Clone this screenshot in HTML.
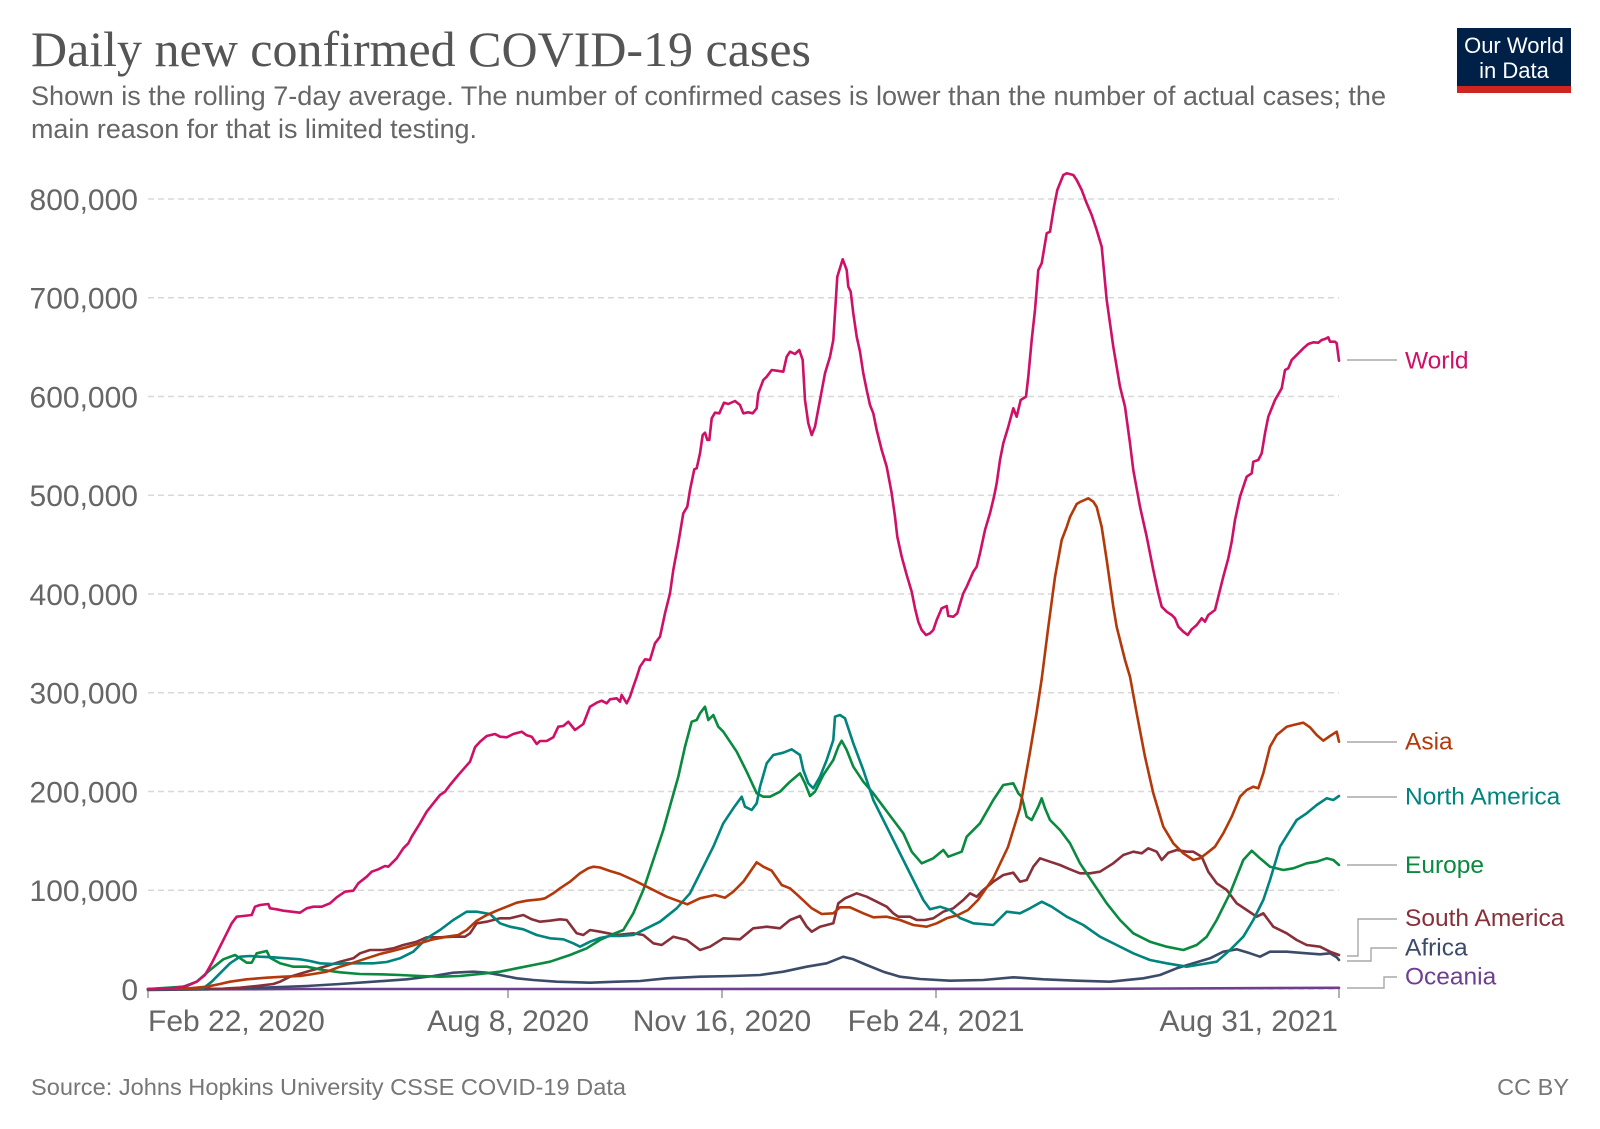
<!DOCTYPE html>
<html>
<head>
<meta charset="utf-8">
<style>
html,body{margin:0;padding:0;background:#fff;}
svg{display:block;}
</style>
</head>
<body>
<svg width="1600" height="1129" viewBox="0 0 1600 1129" xmlns="http://www.w3.org/2000/svg" font-family="'Liberation Sans', Arial, sans-serif">
<rect width="1600" height="1129" fill="#fff"/>

<!-- Title & subtitle -->
<text x="31" y="66" font-family="'Liberation Serif', serif" font-size="50" fill="#555" textLength="780" lengthAdjust="spacingAndGlyphs">Daily new confirmed COVID-19 cases</text>
<text x="31" y="105" font-size="27" fill="#666" textLength="1355" lengthAdjust="spacingAndGlyphs">Shown is the rolling 7-day average. The number of confirmed cases is lower than the number of actual cases; the</text>
<text x="31" y="138" font-size="27" fill="#666" textLength="446" lengthAdjust="spacingAndGlyphs">main reason for that is limited testing.</text>

<!-- Logo -->
<rect x="1457" y="28" width="114" height="59" fill="#002147"/>
<rect x="1457" y="86" width="114" height="7" fill="#ce261e"/>
<text x="1514" y="53" font-size="22" fill="#fff" text-anchor="middle">Our World</text>
<text x="1514" y="78" font-size="22" fill="#fff" text-anchor="middle">in Data</text>

<!-- Gridlines -->
<g stroke="#d8d8d8" stroke-width="1.5" stroke-dasharray="6,4">
<line x1="148" y1="199" x2="1339" y2="199"/>
<line x1="148" y1="297.75" x2="1339" y2="297.75"/>
<line x1="148" y1="396.5" x2="1339" y2="396.5"/>
<line x1="148" y1="495.25" x2="1339" y2="495.25"/>
<line x1="148" y1="594" x2="1339" y2="594"/>
<line x1="148" y1="692.75" x2="1339" y2="692.75"/>
<line x1="148" y1="791.5" x2="1339" y2="791.5"/>
<line x1="148" y1="890.25" x2="1339" y2="890.25"/>
<line x1="148" y1="989" x2="1339" y2="989"/>
</g>

<!-- Y axis labels -->
<g font-size="30" fill="#666" text-anchor="end">
<text x="138" y="210">800,000</text>
<text x="138" y="308.5">700,000</text>
<text x="138" y="407.5">600,000</text>
<text x="138" y="506">500,000</text>
<text x="138" y="605">400,000</text>
<text x="138" y="703.5">300,000</text>
<text x="138" y="802.5">200,000</text>
<text x="138" y="901">100,000</text>
<text x="138" y="1000">0</text>
</g>

<!-- X ticks -->
<g stroke="#999" stroke-width="1.5">
<line x1="148" y1="989" x2="148" y2="998"/>
<line x1="508" y1="989" x2="508" y2="998"/>
<line x1="722" y1="989" x2="722" y2="998"/>
<line x1="936" y1="989" x2="936" y2="998"/>
<line x1="1339" y1="989" x2="1339" y2="998"/>
</g>
<g font-size="30" fill="#666">
<text x="148" y="1031">Feb 22, 2020</text>
<text x="508" y="1031" text-anchor="middle">Aug 8, 2020</text>
<text x="722" y="1031" text-anchor="middle">Nov 16, 2020</text>
<text x="936" y="1031" text-anchor="middle">Feb 24, 2021</text>
<text x="1338" y="1031" text-anchor="end">Aug 31, 2021</text>
</g>

<!-- Series -->
<g fill="none" stroke-width="2.6" stroke-linejoin="round" stroke-linecap="round">
<polyline stroke="#6d3e91" points="148,989.5 300,989 700,989 1100,988.8 1339,987.8"/>
<polyline stroke="#3c4b69" points="148,990 206.7,989.3 240,988.3 273.3,987.3 306.7,986 340,984 373.3,981.7 406.7,979.3 433.3,976 453.3,972.7 473.3,971.7 486.7,972.7 500,975 516.7,978.3 533.3,980 556.7,981.7 590,982.7 616.7,981.7 640,981 666.7,978.3 700,976.7 733.3,976 760,975 783.3,971.7 806.7,966.7 826.7,963.3 843.3,956.7 853.3,959.3 866.7,965 883.3,971.7 900,976.7 920,979 950,980.7 983.3,980 1013.3,977.3 1043.3,979.3 1076.7,980.7 1110,981.7 1143.3,978.3 1160,975 1176.7,968.3 1193.3,963.3 1210,958.3 1223.3,951.7 1236.7,949.3 1250,953.3 1260,956.7 1270,951.7 1286.7,951.7 1306.7,953.3 1320,954.3 1330,953.3 1336.7,957.3 1339,960"/>
<polyline stroke="#883039" points="148,989 223.3,988.7 240,987.7 256.7,986 273.3,984 280,981.7 290,976.7 306.7,971.7 326.7,966 340,961.7 353.3,958.3 360,953.3 370,950 383.3,950 393.3,948.3 403.3,945 416.7,941.7 426.7,937.3 440,937.3 453.3,936.7 465,936.7 470,933.3 476.7,923.3 486.7,921.7 500,918.3 510,918.3 523.3,915 531.7,919.3 540,921.7 550,920.7 560,919.3 566.7,920 571.7,926.7 576.7,933.3 583.3,935 590,930 600,931.7 616.7,935 633.3,933.3 643.3,935 653.3,943.3 661.7,945 673.3,936.7 686.7,940 700,950 710,946.7 723.3,938.3 740,939.3 753.3,928.3 766.7,926.7 780,928.3 790,920 800,916 806.7,926.7 811.7,931.7 820,926.7 833.3,923.3 838.3,903.3 845,898.3 856.7,893.3 866.7,896.7 876.7,901.7 886.7,906.7 893.3,913.3 898.3,916.7 910,916.7 916.7,920 925,920 933.3,918.3 943.3,911.7 953.3,908.3 963.3,900 970,893.3 976.7,896.7 983.3,890 993.3,881.7 1003.3,875 1013.3,872.7 1020,881.7 1026.7,880 1033.3,866.7 1040,858.3 1050,861.7 1060,865 1070,869.3 1080,873.3 1090,873.3 1100,871.7 1113.3,863.3 1123.3,855 1133.3,851.7 1141.7,853.3 1148.3,848.3 1156.7,851.7 1161.7,860 1168.3,852.7 1176.7,850 1186.7,851.7 1193.3,851.7 1201.7,856.7 1208.3,871.7 1216.7,883.3 1226.7,890 1236.7,903.3 1246.7,910 1256.7,916.7 1263.3,913.3 1273.3,926.7 1286.7,933.3 1296.7,940 1306.7,945 1320,946.7 1330,951.7 1339,955"/>
<polyline stroke="#098a3e" points="148,989 183.3,986.7 196.7,981.7 210,970 223.3,959.3 235,955 241.7,959.3 246.7,962.7 251.7,962.7 256.7,953.3 266.7,951 270,957.7 280,963.3 293.3,966.7 306.7,966.7 323.3,970 340,972.3 360,974 380,974.3 400,975 420,976 440,976.7 460,976 480,974 500,971.7 516.7,968.3 533.3,965 550,961.7 570,955 586.7,948.3 600,940 613.3,934 623.3,930 633.3,913.3 643.3,890 653.3,860 663.3,830 671.7,800 678.3,776.7 685,746.7 691.7,721.7 696.7,720 700,713.3 705,706.7 708.3,720 713.3,715 718.3,726.7 723.3,731.7 730,741.7 736.7,751.7 746.7,771.7 756.7,793.3 763.3,796.7 770,796.7 780,791.7 790,781.7 800,773.3 805,783.3 810,796 815,791.7 823.3,775 833.3,760 838.3,746.7 841.7,740.7 846.7,750 853.3,766.7 863.3,781.7 873.3,793.3 883.3,806.7 893.3,820 903.3,833.3 911.7,851.7 921.7,863.3 933.3,858.3 943.3,850 948.3,856.7 961.7,851.7 966.7,836.7 980,823.3 993.3,800 1003.3,785 1013.3,783.3 1018.3,793.3 1021.7,796.7 1026.7,816.7 1031.7,820 1038.3,806.7 1041.7,798.3 1045,808.3 1050,820 1060,830 1070,843.3 1080,863.3 1093.3,883.3 1106.7,903.3 1120,920 1133.3,933.3 1150,941.7 1166.7,946.7 1183.3,950 1196.7,945 1206.7,936.7 1216.7,920 1230,893.3 1243.3,860 1251.7,850.7 1260,858.3 1270,866.7 1283.3,870 1293.3,868.3 1306.7,863.3 1316.7,861.7 1326.7,858.3 1333.3,860 1339,865"/>
<polyline stroke="#00847e" points="148,989 203.3,988.3 211.7,981.7 220,973.3 230,963.3 240,956.7 250,956 260,956.7 273.3,957.3 286.7,958.3 300,959.3 310,961 320,963.3 333.3,964 346.7,963.3 360,963.3 373.3,963.3 386.7,962 400,958.3 413.3,951.7 426.7,938.3 440,930 453.3,920 466.7,911.7 476.7,911.7 490,914 500,923.3 510,926.7 523.3,929.3 536.7,935 550,938.3 563.3,939.3 573.3,943.3 580,946.7 590,941.7 600,938 610,936 620,936 633.3,935 646.7,928.3 660,921.7 676.7,908.3 690,893.3 700,873.3 713.3,846.7 723.3,823.3 733.3,808.3 741.7,796.7 745,806.7 751.7,810 756.7,803.3 760,786.7 766.7,763.3 773.3,755 783.3,752.7 791.7,749.3 800,755 803.3,770 808.3,783.3 813.3,788.3 820,776.7 826.7,760 833.3,740 835,716.7 840,715 845,718.3 853.3,743.3 863.3,770 873.3,800 883.3,820 893.3,840 903.3,860 913.3,880 923.3,900 930,909.3 940,906.7 950,910 960,918 973.3,923.3 993.3,925 1006.7,911.7 1020,913.3 1030,908.3 1041.7,901.7 1051.7,906.7 1066.7,916.7 1083.3,925 1100,936.7 1116.7,945 1133.3,953.3 1150,960 1166.7,963.3 1186.7,966.7 1203.3,964 1216.7,961.7 1230,950 1243.3,936.7 1253.3,920 1263.3,900 1270,880 1280,846.7 1288.3,833.3 1296.7,820 1306.7,813.3 1316.7,805 1326.7,798.3 1333.3,800 1339,796"/>
<polyline stroke="#b3390a" points="148,989 190,988.3 206.7,986.7 220,984 230,981.7 246.7,979.3 266.7,977.7 283.3,976.7 300,976 313.3,974 326.7,971.7 340,966.7 353.3,962.7 366.7,958.3 380,954 393.3,950.7 406.7,947.3 420,943.3 433.3,939.3 446.7,936.7 458.3,935 466.7,930 476.7,920.7 486.7,915 496.7,910.7 506.7,906.7 516.7,902.7 526.7,900.7 540,899.3 545,898.3 553.3,893.3 560,888.3 570,881.7 580,873.3 588.3,868.3 593.3,866.7 600,867.5 610,871 620,874 633.3,880 650,888.3 666.7,896.7 687.3,904.3 700,898.3 715,895 725,897.7 733.3,891.7 743.3,881.7 756.7,862.3 763.3,866.7 771.7,870.7 781.7,885 790,888.3 800,897.3 811.7,908.3 821.7,914 833.3,913.3 840,907.3 850,907.3 863.3,913.3 873.3,917.3 886.7,916.7 900,920 913.3,925 926.7,926.7 936.7,923.3 946.7,918.3 958,915 968,910 978,900 993.3,878 1008,847 1020,808 1030,752 1036.7,712 1041.7,679 1048.3,627 1055,577 1061.7,540 1066.7,527 1070,517 1076.7,504 1080,502 1088.3,498.3 1093.3,501.7 1096.7,507 1101.7,527 1106.7,560 1113.3,606.7 1116.7,627 1120,640 1125,660 1130,676.7 1136.7,713.3 1145,756.7 1153.3,793.3 1163.3,826.7 1173.3,843.3 1183.3,853.3 1193.3,860 1200,858.3 1206.7,853.3 1215,846.7 1223.3,833.3 1231.7,816.7 1240,796.7 1246.7,790 1253.3,786.7 1258.3,788.3 1263.3,773.3 1270,746.7 1276.7,735 1286.7,726.7 1293.3,725 1303.3,722.7 1310,727.3 1316.7,735 1323.3,740.7 1330,736 1336.7,731.7 1339,741.7"/>
<polyline stroke="#ce1066" points="148,989 173,988.3 186.7,986 196.7,981.7 205,975 211.7,963.3 220,946.7 226.7,933.3 231.7,923.3 236.7,916.7 243.3,916 251.7,915 255,906.7 260,905 268.3,904 270,908.3 276.7,909.3 283.3,910.7 291.7,911.7 300,912.7 306.7,908.3 313.3,906.7 321.7,906.7 330,903.3 336.7,897.3 345,891.7 353.3,890.7 358.3,883.3 366.7,876.7 371.7,871.7 378.3,869.3 385,866 388.3,866.7 396.7,858.3 403.3,848.3 408.3,843.3 411.7,836.7 420,823.3 426.7,811.7 433.3,803.3 440,795 445,791.7 450,785 458.3,775 463.3,769.3 470,761.7 475,747.3 480,741.7 486.7,736 495,734 500,736.7 506.7,737.3 513.3,734 521.7,731.7 526.7,735.3 531.7,736.7 536.7,744 540,741 546.7,741 553.3,737.3 558.3,726.7 563.3,726 568.3,721.7 575,730 583.3,724 590,706.7 596.7,702.7 601.7,700.7 606.7,703.3 610,699.3 616.7,698.3 620,701.7 621.7,695 626.7,703.3 630,696.7 633.3,686.7 636.7,677 640,666.7 645,659.3 650,660 655,643.3 660,636.7 665,613.3 670,593.3 673.3,570 678.3,543.3 683.3,513.3 687.3,506.7 690,490 694.3,469.3 696.7,468.3 700,453.3 702.7,435 705,432.7 707.3,440 709.3,440 711.7,418.3 715,412.7 719.3,413.3 724,402.7 728.3,404 735,401 740,405 743.3,413.3 748.3,412.3 752.7,413.3 756.7,408.3 758.3,393.3 763.3,380 766.7,376.7 771.7,370 776.7,370.7 783.3,371.7 786.7,356.7 790,351.7 795,354 799.3,350 802.7,360 805,400 808.3,423.3 811.7,435 815,426.7 820,400 825,373.3 830,356.7 833.3,340 837.3,276.7 842.7,259.3 846.7,270 848.3,286.7 850.7,291.7 853.3,313.3 856.7,336.7 860,351.7 863.3,373.3 866.7,390 870,405 873.3,413.3 876.7,430 881.7,450 886.7,466.7 891.7,493.3 895,516.7 897.3,536.7 901.7,556.7 906.7,575 911.7,591.7 915,608.3 918.3,621.7 921.7,630 926,635 930,633.3 933.3,630 936.7,620 941.7,608.3 946.7,606 948.3,616 953.3,616.7 957.3,613.3 960,604 963.3,593.3 966.7,586.7 973.3,571.7 976.7,566.7 980,553.3 985,530 990,513.3 994,496.7 996.7,483.3 1000,460 1003.3,443.3 1008.3,426.7 1013.3,408.3 1016.7,416.7 1020.7,400 1026,396.7 1028.3,376.7 1031.7,340 1035,310 1038.3,270 1041.7,263.3 1046.7,233.3 1050,231.7 1054,206.7 1057.3,190 1063.3,175 1066.7,173.3 1073.3,175 1076.7,180 1081.7,190 1086.7,203.3 1091.7,215 1096.7,230 1101.7,246.7 1106.7,300 1113.3,346.7 1120,386.7 1125,406.7 1130,443.3 1133.3,470 1140,506.7 1146.7,536.7 1153.3,570 1158.3,593.3 1161.7,606.7 1166.7,611.7 1171.7,615 1175,618.3 1178.3,626.7 1183.3,631.7 1187.7,635 1191.7,629.3 1196.7,625 1201.7,618.3 1205,621.7 1208.3,615 1215,610 1218.3,596.7 1223.3,576.7 1228.3,558.3 1231.7,541.7 1235,520 1240,496.7 1246.7,476.7 1251.7,473.3 1253.3,461.7 1258.3,460 1261.7,453.3 1265,433.3 1268.3,416.7 1275,400 1281.7,388.3 1285,370 1288.3,368.3 1291.7,360 1295,356.7 1300,351.7 1303.3,348.3 1308.3,344 1313.3,342.3 1318.3,342.7 1321.7,340 1325,339 1328.3,337.3 1330,341.7 1335,341.7 1336.7,343.3 1339,360.7"/>
</g>

<!-- Label connectors -->
<g fill="none" stroke="#a8a8a8" stroke-width="1.4">
<polyline points="1347,360 1397,360"/>
<polyline points="1347,742 1397,742"/>
<polyline points="1347,797 1397,797"/>
<polyline points="1347,865 1397,865"/>
<polyline points="1347,956 1358,956 1358,919 1397,919"/>
<polyline points="1347,961 1371,961 1371,948 1397,948"/>
<polyline points="1347,988 1384,988 1384,977 1397,977"/>
</g>

<!-- Series labels -->
<g font-size="24.5">
<text x="1405" y="368.5" fill="#ce1066">World</text>
<text x="1405" y="749.5" fill="#b3390a">Asia</text>
<text x="1405" y="804.5" fill="#00847e">North America</text>
<text x="1405" y="873" fill="#098a3e">Europe</text>
<text x="1405" y="926" fill="#883039">South America</text>
<text x="1405" y="955.5" fill="#3c4b69">Africa</text>
<text x="1405" y="984.5" fill="#6d3e91">Oceania</text>
</g>

<!-- Footer -->
<text x="31" y="1095" font-size="23.5" fill="#777" textLength="595" lengthAdjust="spacingAndGlyphs">Source: Johns Hopkins University CSSE COVID-19 Data</text>
<text x="1569" y="1095" font-size="23.5" fill="#777" text-anchor="end">CC BY</text>
</svg>
</body>
</html>
